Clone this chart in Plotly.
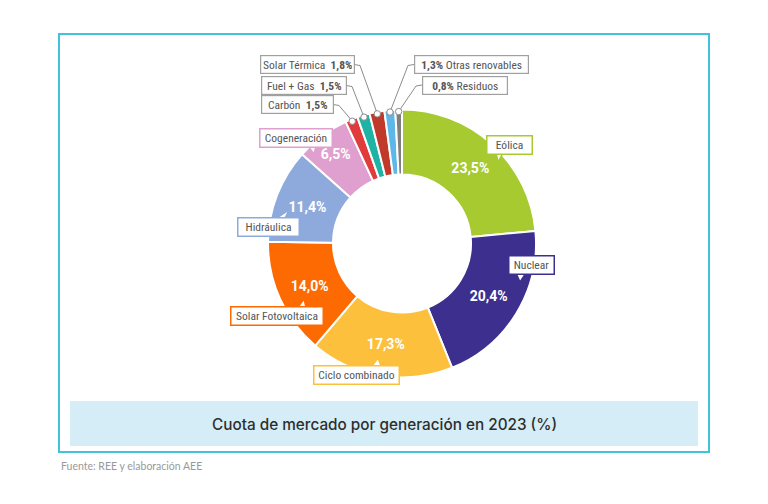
import numpy as np
import plotly.graph_objects as go

# ---------------- data ----------------
categories = ["Eólica", "Nuclear", "Ciclo combinado", "Solar Fotovoltaica", "Hidráulica",
              "Cogeneración", "Carbón", "Fuel + Gas", "Solar Térmica", "Otras renovables", "Residuos"]
shares = [23.5, 20.4, 17.3, 14.0, 11.4, 6.5, 1.5, 1.5, 1.8, 1.3, 0.8]
colors = ["#a6ca30", "#3c2f8e", "#fdc03d", "#fd6a02", "#8eaadc",
          "#dfa0cf", "#e23b3b", "#1fb3a6", "#c0392b", "#5db7e8", "#7f7f7f"]
title_text = "Cuota de mercado por generación en 2023 (%)"
source_text = "Fuente: REE y elaboración AEE"

W, H = 768, 504
CX, CY, R = 402, 243.5, 134      # donut centre / radius in pixels
HOLE = 0.515
LABEL_FONT = "Liberation Sans Narrow, Roboto Condensed, Roboto"

def fmt(v):
    return f"{v:.1f}".replace(".", ",")

big = [v >= 5 for v in shares]
inside_text = [fmt(v) + "%" if b else "" for v, b in zip(shares, big)]

fig = go.Figure()
fig.add_trace(go.Pie(
    labels=categories, values=shares, sort=False, direction="clockwise", rotation=0,
    hole=HOLE, marker=dict(colors=colors, line=dict(color="white", width=2)),
    text=inside_text, textinfo="text", textposition="inside",
    insidetextorientation="horizontal",
    textfont=dict(family="Roboto", size=14, color="white", weight="bold"),
    hoverinfo="label+percent", showlegend=False,
    domain=dict(x=[(CX - R) / W, (CX + R) / W], y=[(H - CY - R) / H, (H - CY + R) / H]),
))

shapes = []
annotations = []

# frame and title bar
shapes.append(dict(type="rect", xref="x", yref="y", x0=59, x1=709, y0=34, y1=452,
                   line=dict(color="#40c3db", width=2), fillcolor="rgba(0,0,0,0)"))
shapes.append(dict(type="rect", xref="x", yref="y", x0=70, x1=698, y0=401, y1=446,
                   line=dict(width=0), fillcolor="#d5edf7", layer="below"))
annotations.append(dict(x=384, y=424, xref="x", yref="y", text=title_text, showarrow=False,
                        font=dict(family="Inter", size=15.3, color="#2e2e2e", weight=500)))
annotations.append(dict(x=59, y=466, xref="x", yref="y", text=source_text, showarrow=False,
                        xanchor="left", font=dict(family="Lato", size=10.5, color="#999999")))

# callouts for big slices: box centre, box width, tail (base x1, base x2, base y, tip x, tip y)
big_boxes = {
    "Eólica": ((509.5, 144.5), 45, (496, 503, 153, 498, 162)),
    "Nuclear": ((531.5, 264.5), 45, (516, 526, 273, 520, 282)),
    "Ciclo combinado": ((356.5, 374.5), 85, (372, 381, 366, 378, 358)),
    "Solar Fotovoltaica": ((277, 315.5), 92, (298, 306, 307, 304, 299)),
    "Hidráulica": ((268.5, 227), 61, (277, 285, 218, 289, 210)),
    "Cogeneración": ((296, 138), 72, (308, 316, 146, 314, 154)),
}
for name, col in zip(categories, colors):
    if name not in big_boxes:
        continue
    (bx, by), bw, (t1, t2, ty, tx, tipy) = big_boxes[name]
    shapes.append(dict(type="path", xref="x", yref="y",
                       path=f"M{t1},{ty} L{tx},{tipy} L{t2},{ty} Z",
                       fillcolor="white", line=dict(color=col, width=1.5)))
    annotations.append(dict(x=bx, y=by, xref="x", yref="y", text=name, showarrow=False,
                            width=bw - 5, height=13, borderpad=2, bordercolor=col, borderwidth=1.5,
                            bgcolor="white", font=dict(family=LABEL_FONT, size=11.5, color="#555555")))

# callouts for small slices: box centre, width, side of leader line
small_boxes = {
    "Carbón": ((297, 104.5), 72, "left"),
    "Fuel + Gas": ((303.5, 85.5), 85, "left"),
    "Solar Térmica": ((307, 64.5), 94, "left"),
    "Otras renovables": ((471, 64.5), 114, "right"),
    "Residuos": ((464.5, 85), 85, "right"),
}
cum = np.cumsum([0] + shares[:-1])
total = sum(shares)
for name, v, c0 in zip(categories, shares, cum):
    if name not in small_boxes:
        continue
    (bx, by), bw, side = small_boxes[name]
    ang = np.deg2rad((c0 + v / 2) / total * 360)
    dx, dy = CX + (R - 2) * np.sin(ang), CY - (R - 2) * np.cos(ang)
    if side == "left":
        label = f"{name}\u00a0\u00a0<b>{fmt(v)}%</b>"
        ex = bx + bw / 2
        kx = ex + 6
    else:
        label = f"<b>{fmt(v)}%</b> {name}"
        ex = bx - bw / 2
        kx = ex - 6
    shapes.append(dict(type="path", xref="x", yref="y",
                       path=f"M{ex},{by} L{kx},{by + 1} L{dx:.1f},{dy:.1f}",
                       line=dict(color="#8c8c8c", width=1)))
    shapes.append(dict(type="circle", xref="x", yref="y", x0=dx - 3.2, x1=dx + 3.2,
                       y0=dy - 3.2, y1=dy + 3.2, fillcolor="white",
                       line=dict(color="#8c8c8c", width=1)))
    annotations.append(dict(x=bx, y=by, xref="x", yref="y", text=label, showarrow=False,
                            width=bw - 5, height=13, borderpad=2, bordercolor="#a0a0a0",
                            borderwidth=1.2, bgcolor="white",
                            font=dict(family=LABEL_FONT, size=11.5, color="#555555")))

fig.update_layout(
    width=W, height=H, margin=dict(l=0, r=0, t=0, b=0),
    paper_bgcolor="white", plot_bgcolor="rgba(0,0,0,0)",
    xaxis=dict(range=[0, W], visible=False, fixedrange=True, domain=[0, 1]),
    yaxis=dict(range=[H, 0], visible=False, fixedrange=True, domain=[0, 1]),
    shapes=shapes, annotations=annotations,
)
fig.write_html("out.html", config={"displayModeBar": False},
               post_script="document.body.style.margin='0';")
